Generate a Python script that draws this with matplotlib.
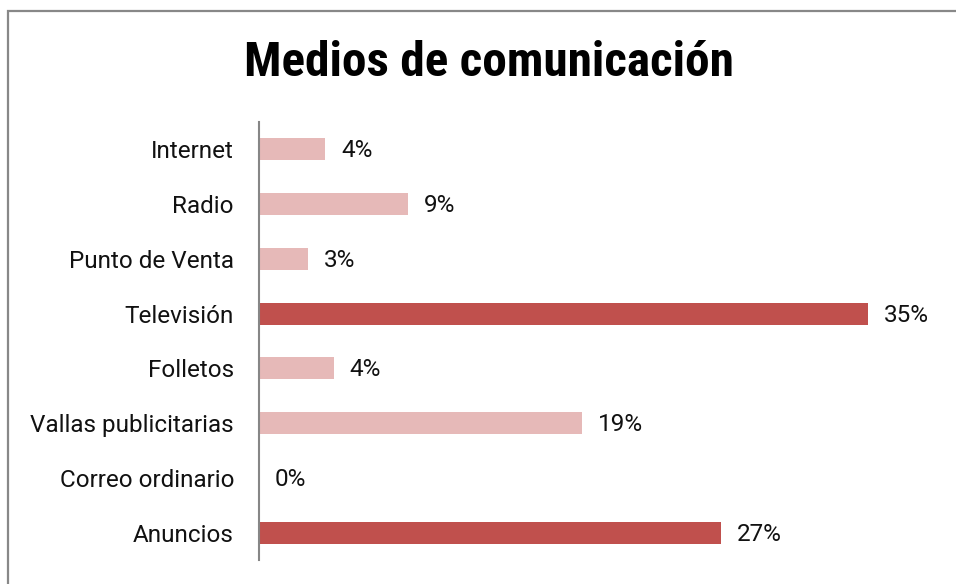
import matplotlib.pyplot as plt
from matplotlib.patches import Rectangle

# Medios de comunicación (porcentaje de respuestas)
categorias = ["Internet", "Radio", "Punto de Venta", "Televisión",
              "Folletos", "Vallas publicitarias", "Correo ordinario", "Anuncios"]
porcentajes = [3.8, 8.6, 2.8, 35.1, 4.3, 18.6, 0.0, 26.6]
destacados = ["Televisión", "Anuncios"]

color_claro = "#E6B9B8"
color_fuerte = "#C0504D"

plt.rcParams["font.family"] = ["Roboto", "DejaVu Sans"]

fig = plt.figure(figsize=(9.56, 5.84), dpi=100)
ax = fig.add_axes([259 / 956, 24 / 584, 694 / 956, 438 / 584])

# marco exterior gris
fig.patches.append(Rectangle((7.5 / 956, -0.05), 1.2, (584 - 10.5) / 584 + 0.05,
                             transform=fig.transFigure, fill=False,
                             edgecolor="#888888", linewidth=1.6))

y = list(range(len(categorias)))
colores = [color_fuerte if c in destacados else color_claro for c in categorias]
ax.barh(y, porcentajes, height=0.4, color=colores)

for yi, v in zip(y, porcentajes):
    ax.annotate(f"{v:.0f}%", xy=(v, yi), xytext=(11.5, -1), textcoords="offset points",
                va="center", ha="left", fontsize=17.5, color="#111111")

ax.set_xlim(0, 40)
ax.set_ylim(len(categorias) - 0.5, -0.5)
ax.set_yticks(y)
ax.set_yticklabels(categorias, fontsize=17.5, color="#111111")
ax.tick_params(axis="y", length=0, pad=18)
ax.set_xticks([])
for s in ["top", "right", "bottom"]:
    ax.spines[s].set_visible(False)
ax.spines["left"].set_color("#868686")
ax.spines["left"].set_linewidth(1.5)

fig.text(489 / 956, 1 - 76 / 584, "Medios de comunicación", ha="center", va="baseline",
         fontsize=35.5, fontweight="bold", family=["Roboto Condensed", "DejaVu Sans"])

fig.savefig("out.png", dpi=100)
